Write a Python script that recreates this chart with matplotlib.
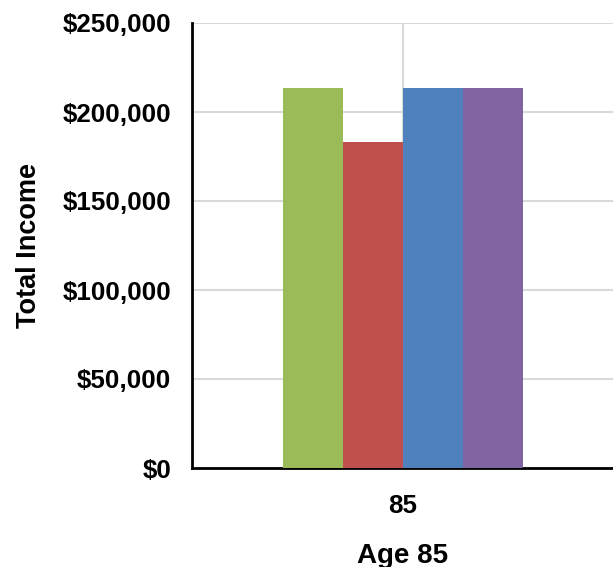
import matplotlib
matplotlib.use("Agg")
import matplotlib.pyplot as plt
import numpy as np
from matplotlib.ticker import FuncFormatter

categories = ["85"]
series_names = ["Series 1", "Series 2", "Series 3", "Series 4"]
series_values = [[213500], [183000], [213500], [213500]]
colors = ["#9bbb59", "#c0504d", "#4f81bd", "#8064a2"]
yticks = [0, 50000, 100000, 150000, 200000, 250000]

plt.rcParams['font.family'] = ['Liberation Sans', 'DejaVu Sans']
fig = plt.figure(figsize=(6.13, 5.67), dpi=100)
ax = fig.add_axes([192/613, (567-468)/567, 422/613, 445/567])

x = np.arange(len(categories))
n = len(series_values)
w = 0.142
for i, (vals, c) in enumerate(zip(series_values, colors)):
    ax.bar(x + (i - (n-1)/2) * w, vals, width=w, color=c, zorder=3)

ax.set_xlim(-0.5, 0.5)
ax.set_ylim(0, 250000)
ax.set_yticks(yticks)
ax.yaxis.set_major_formatter(FuncFormatter(lambda v, p: f"${v:,.0f}"))
ax.set_xticks(x)
ax.set_xticklabels(categories)
ax.grid(True, color="#d9d9d9", linewidth=1.5, zorder=0)
for s in ["top", "right"]:
    ax.spines[s].set_visible(False)
ax.spines["left"].set_linewidth(2)
ax.spines["bottom"].set_linewidth(2)
ax.tick_params(length=0, labelsize=18.7)
ax.tick_params(axis="y", pad=15)
ax.tick_params(axis="x", pad=19)
for lbl in ax.get_xticklabels() + ax.get_yticklabels():
    lbl.set_fontweight("bold")
ax.set_ylabel("Total Income", fontsize=19.5, fontweight="bold", labelpad=15)
ax.set_xlabel("Age 85", fontsize=20, fontweight="bold", labelpad=18)

fig.savefig("out.png", dpi=100)
